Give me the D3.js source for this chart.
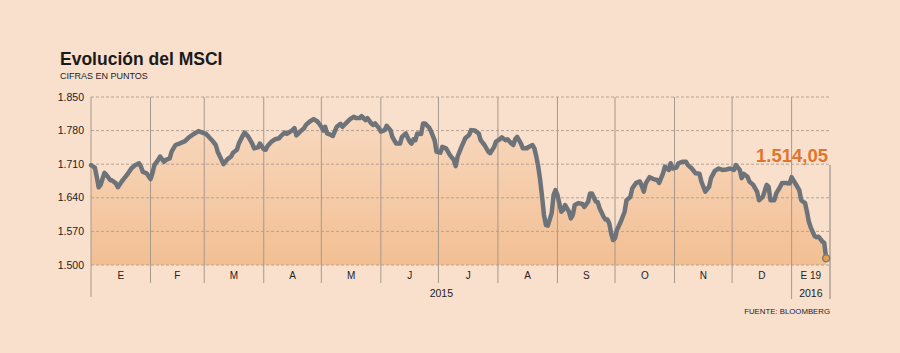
<!DOCTYPE html>
<html lang="es">
<head>
    <meta charset="UTF-8">
    <title>Evolución del MSCI</title>
    <style>
        body {
            margin: 0;
            padding: 0;
            background-color: #f9e0cd;
            font-family: 'Liberation Sans', Arial, sans-serif;
        }
        svg { display: block; }
    </style>
</head>
<body>
    <svg id="chart" width="900" height="353"></svg>
    <script src="https://d3js.org/d3.v7.min.js"></script>
    <script>
        const dates = [
            "2015-01-01","2015-01-03","2015-01-04","2015-01-05","2015-01-06","2015-01-08","2015-01-09","2015-01-11","2015-01-12","2015-01-14",
            "2015-01-15","2015-01-17","2015-01-19","2015-01-20","2015-01-22","2015-01-24","2015-01-26","2015-01-27","2015-01-28","2015-01-30",
            "2015-02-01","2015-02-02","2015-02-03","2015-02-05","2015-02-06","2015-02-08","2015-02-09","2015-02-11","2015-02-12","2015-02-14",
            "2015-02-16","2015-02-19","2015-02-21","2015-02-24","2015-02-26","2015-02-28","2015-03-02","2015-03-05","2015-03-07","2015-03-08",
            "2015-03-10","2015-03-11","2015-03-13","2015-03-15","2015-03-16","2015-03-18","2015-03-19","2015-03-21","2015-03-22","2015-03-24",
            "2015-03-26","2015-03-27","2015-03-29","2015-03-30","2015-04-01","2015-04-02","2015-04-03","2015-04-05","2015-04-07","2015-04-09",
            "2015-04-10","2015-04-12","2015-04-13","2015-04-16","2015-04-17","2015-04-18","2015-04-20","2015-04-22","2015-04-23","2015-04-25",
            "2015-04-27","2015-04-29","2015-05-01","2015-05-02","2015-05-03","2015-05-04","2015-05-06","2015-05-07","2015-05-09","2015-05-11",
            "2015-05-12","2015-05-14","2015-05-16","2015-05-18","2015-05-19","2015-05-21","2015-05-22","2015-05-24","2015-05-25","2015-05-27",
            "2015-05-28","2015-05-29","2015-05-31","2015-06-01","2015-06-03","2015-06-04","2015-06-06","2015-06-07","2015-06-09","2015-06-11",
            "2015-06-12","2015-06-14","2015-06-16","2015-06-17","2015-06-18","2015-06-19","2015-06-20","2015-06-22","2015-06-23","2015-06-24",
            "2015-06-26","2015-06-27","2015-06-29","2015-06-30","2015-07-02","2015-07-03","2015-07-05","2015-07-07","2015-07-09","2015-07-10",
            "2015-07-11","2015-07-13","2015-07-15","2015-07-17","2015-07-18","2015-07-20","2015-07-22","2015-07-23","2015-07-25","2015-07-27",
            "2015-07-28","2015-07-30","2015-07-31","2015-08-02","2015-08-03","2015-08-05","2015-08-06","2015-08-08","2015-08-09","2015-08-10",
            "2015-08-11","2015-08-13","2015-08-14","2015-08-16","2015-08-17","2015-08-19","2015-08-20","2015-08-21","2015-08-22","2015-08-23",
            "2015-08-24","2015-08-25","2015-08-26","2015-08-27","2015-08-29","2015-08-30","2015-08-31","2015-09-01","2015-09-03","2015-09-04",
            "2015-09-05","2015-09-07","2015-09-08","2015-09-09","2015-09-10","2015-09-12","2015-09-14","2015-09-15","2015-09-17","2015-09-18",
            "2015-09-19","2015-09-21","2015-09-22","2015-09-23","2015-09-25","2015-09-26","2015-09-27","2015-09-28","2015-09-29","2015-09-30",
            "2015-10-01","2015-10-02","2015-10-04","2015-10-06","2015-10-07","2015-10-09","2015-10-10","2015-10-12","2015-10-14","2015-10-16",
            "2015-10-17","2015-10-19","2015-10-21","2015-10-23","2015-10-24","2015-10-26","2015-10-27","2015-10-29","2015-10-30","2015-10-31",
            "2015-11-02","2015-11-03","2015-11-05","2015-11-07","2015-11-08","2015-11-10","2015-11-12","2015-11-14","2015-11-15","2015-11-17",
            "2015-11-19","2015-11-20","2015-11-22","2015-11-24","2015-11-26","2015-11-28","2015-11-30","2015-12-02","2015-12-03","2015-12-05",
            "2015-12-06","2015-12-07","2015-12-09","2015-12-10","2015-12-12","2015-12-14","2015-12-15","2015-12-17","2015-12-19","2015-12-20",
            "2015-12-21","2015-12-23","2015-12-24","2015-12-26","2015-12-27","2015-12-29","2015-12-31","2016-01-01","2016-01-02","2016-01-04",
            "2016-01-05","2016-01-06","2016-01-08","2016-01-09","2016-01-10","2016-01-11","2016-01-13","2016-01-14","2016-01-15","2016-01-17",
            "2016-01-18","2016-01-19"
        ];
        const values = [
            1708,1703,1684,1662,1667,1692,1688,1677,1676,1670,
            1662,1674,1684,1689,1701,1708,1712,1705,1694,1691,
            1679,1691,1708,1719,1726,1715,1719,1722,1736,1750,
            1753,1758,1766,1774,1779,1776,1773,1760,1750,1736,
            1719,1710,1720,1726,1734,1740,1753,1769,1776,1767,
            1753,1743,1745,1753,1741,1740,1748,1757,1762,1764,
            1769,1776,1773,1781,1785,1770,1778,1785,1792,1799,
            1804,1799,1788,1780,1788,1774,1771,1769,1788,1794,
            1788,1796,1804,1809,1806,1806,1810,1802,1806,1795,
            1792,1795,1785,1778,1781,1790,1781,1767,1753,1753,
            1767,1774,1757,1753,1762,1760,1774,1773,1795,1795,
            1787,1780,1760,1736,1734,1746,1743,1729,1719,1706,
            1726,1746,1764,1771,1781,1780,1774,1760,1750,1736,
            1733,1746,1757,1762,1766,1760,1762,1753,1750,1762,
            1767,1753,1743,1743,1746,1750,1743,1726,1705,1677,
            1642,1604,1583,1582,1608,1646,1656,1646,1611,1615,
            1625,1611,1597,1604,1625,1629,1627,1621,1632,1649,
            1649,1632,1631,1618,1601,1595,1595,1587,1566,1552,
            1556,1573,1590,1611,1635,1642,1660,1671,1674,1653,
            1670,1683,1679,1677,1671,1691,1705,1698,1712,1701,
            1703,1712,1715,1715,1708,1701,1691,1690,1674,1653,
            1663,1681,1696,1701,1698,1699,1701,1698,1708,1698,
            1681,1690,1684,1674,1667,1653,1635,1642,1667,1663,
            1635,1635,1649,1663,1671,1671,1670,1683,1676,1663,
            1656,1635,1629,1611,1590,1578,1560,1558,1559,1549,
            1546,1514.05
        ];
        const yTicks = [1500, 1570, 1640, 1710, 1780, 1850];
        const monthLabels = ["E", "F", "M", "A", "M", "J", "J", "A", "S", "O", "N", "D", "E 19"];
        const yearLabels = ["2015", "2016"];
        const lastLabel = "1.514,05";

        const parse = d3.timeParse("%Y-%m-%d");
        const data = dates.map((d, i) => ({date: parse(d), value: values[i]}));

        const svg = d3.select("#chart");
        const plot = {left: 91, right: 830, top: 97, bottom: 265};
        const startDate = new Date(2015, 0, 1);
        const endDate = new Date(2016, 0, 21);

        const x = d3.scaleTime().domain([startDate, endDate]).range([plot.left, plot.right]);
        const y = d3.scaleLinear().domain([1500, 1850]).range([plot.bottom, plot.top]);
        const fmt = d3.format(",.0f");
        const esNum = v => fmt(v).replace(/,/g, ".");

        svg.append("rect").attr("width", 900).attr("height", 353).attr("fill", "#f9e0cd");

        // titulo
        svg.append("text").attr("x", 60).attr("y", 65)
            .attr("font-size", "17.5px").attr("font-weight", "bold").attr("fill", "#1a1a1a")
            .text("Evolución del MSCI");
        svg.append("text").attr("x", 60).attr("y", 79)
            .attr("font-size", "9px").attr("fill", "#222")
            .text("CIFRAS EN PUNTOS");

        // degradado del area
        const grad = svg.append("defs").append("linearGradient")
            .attr("id", "areaGrad").attr("gradientUnits", "userSpaceOnUse")
            .attr("x1", 0).attr("x2", 0).attr("y1", plot.top).attr("y2", plot.bottom);
        grad.append("stop").attr("offset", "0%").attr("stop-color", "#f9dcc5");
        grad.append("stop").attr("offset", "100%").attr("stop-color", "#f2bf93");

        const area = d3.area().x(d => x(d.date)).y0(plot.bottom).y1(d => y(d.value));
        svg.append("path").datum(data).attr("d", area).attr("fill", "url(#areaGrad)");

        // rejilla horizontal
        svg.append("g").selectAll("line").data(yTicks).enter().append("line")
            .attr("x1", plot.left).attr("x2", plot.right)
            .attr("y1", d => y(d)).attr("y2", d => y(d))
            .attr("stroke", "#b4a393").attr("stroke-width", 1).attr("stroke-dasharray", "3,2");

        svg.append("g").selectAll("text").data(yTicks).enter().append("text")
            .attr("x", 84).attr("y", d => y(d) + 3.5)
            .attr("text-anchor", "end").attr("font-size", "10.5px").attr("fill", "#222")
            .text(d => esNum(d));

        // separadores de meses
        const months = d3.timeMonth.range(startDate, new Date(2016, 0, 2));
        svg.append("g").selectAll("line").data(months.slice(1)).enter().append("line")
            .attr("x1", d => x(d)).attr("x2", d => x(d))
            .attr("y1", plot.top).attr("y2", d => d.getFullYear() === 2016 ? 299 : 283)
            .attr("stroke", "#a8988a").attr("stroke-width", 1);
        svg.append("line").attr("x1", plot.left).attr("x2", plot.left).attr("y1", plot.top).attr("y2", 297)
            .attr("stroke", "#a8988a").attr("stroke-width", 1);

        const bounds = months.concat([endDate]);
        svg.append("g").selectAll("text").data(monthLabels).enter().append("text")
            .attr("x", (d, i) => (x(bounds[i]) + x(bounds[i + 1])) / 2)
            .attr("y", 279).attr("text-anchor", "middle")
            .attr("font-size", "10px").attr("fill", "#222")
            .text(d => d);

        const jan16 = new Date(2016, 0, 1);
        svg.append("text").attr("x", (x(startDate) + x(jan16)) / 2).attr("y", 297)
            .attr("text-anchor", "middle").attr("font-size", "10.5px").attr("fill", "#222")
            .text(yearLabels[0]);
        svg.append("text").attr("x", (x(jan16) + x(endDate)) / 2).attr("y", 297)
            .attr("text-anchor", "middle").attr("font-size", "10.5px").attr("fill", "#222")
            .text(yearLabels[1]);

        // linea
        const line = d3.line().x(d => x(d.date)).y(d => y(d.value));
        svg.append("path").datum(data).attr("d", line)
            .attr("fill", "none").attr("stroke", "#6d7378").attr("stroke-width", 4.5)
            .attr("stroke-linejoin", "round").attr("stroke-linecap", "round");

        // ultimo valor
        const last = data[data.length - 1];
        svg.append("line").attr("x1", plot.right).attr("x2", plot.right).attr("y1", 165).attr("y2", 299)
            .attr("stroke", "#8a8078").attr("stroke-width", 1);
        svg.append("circle").attr("cx", x(last.date)).attr("cy", y(last.value)).attr("r", 3.5)
            .attr("fill", "#f0a040").attr("stroke", "#7a7f83").attr("stroke-width", 1.5);
        svg.append("text").attr("x", 828).attr("y", 162).attr("text-anchor", "end")
            .attr("font-size", "18.5px").attr("font-weight", "bold").attr("fill", "#e3752b")
            .text(lastLabel);

        svg.append("text").attr("x", 830).attr("y", 314).attr("text-anchor", "end")
            .attr("font-size", "7.8px").attr("fill", "#222")
            .text("FUENTE: BLOOMBERG");
    </script>
</body>
</html>
